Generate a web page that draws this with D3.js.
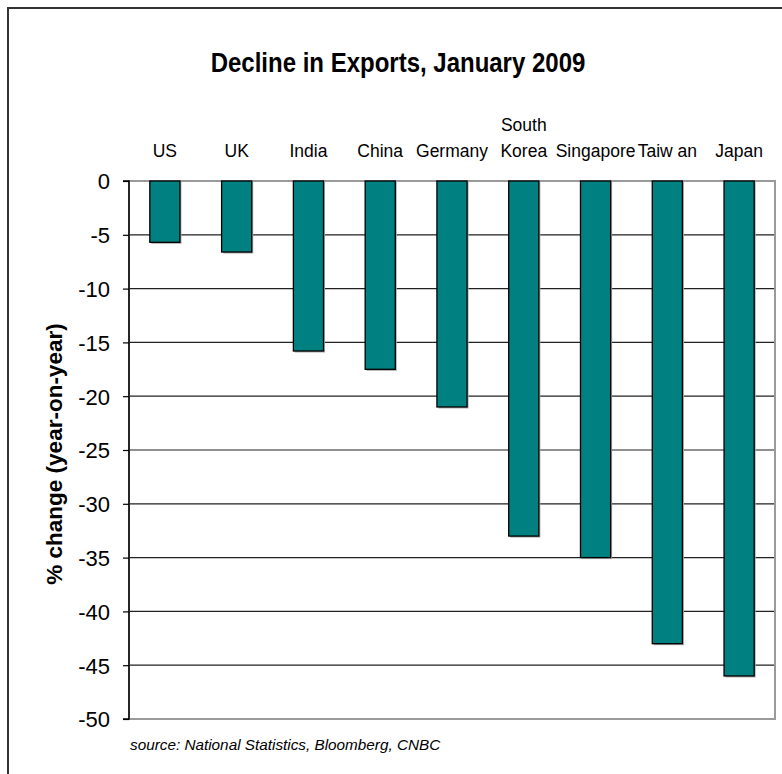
<!DOCTYPE html>
<html><head><meta charset="utf-8">
<script src="https://cdn.jsdelivr.net/npm/d3@7"></script>
<style>body{margin:0;background:#fff}svg{display:block;font-family:"Liberation Sans",Arial,sans-serif}</style>
</head><body><svg id="c" width="782" height="774"></svg>
<script>
const categories = ["US","UK","India","China","Germany","South Korea","Singapore","Taiw an","Japan"];
const values = [-5.7,-6.6,-15.8,-17.5,-21.0,-33.0,-35.0,-43.0,-46.0];
const yTicks = [0,-5,-10,-15,-20,-25,-30,-35,-40,-45,-50];
const title = "Decline in Exports, January 2009";
const yTitle = "% change (year-on-year)";
const source = "source: National Statistics, Bloomberg, CNBC";

const svg = d3.select("#c");
const L=129, R=775, T=181, B=719;
// outer frame
svg.append("rect").attr("x",8).attr("y",8).attr("width",790).attr("height",790)
  .attr("fill","#fff").attr("stroke","#333").attr("stroke-width",2);

const x = d3.scaleBand().domain(categories).range([L,R]).paddingInner(0.58).paddingOuter(0.29);
const y = d3.scaleLinear().domain([0,-50]).range([T,B]);

// gridlines
svg.append("g").selectAll("line").data(yTicks.filter(d=>d!==0&&d!==-50)).join("line")
  .attr("x1",L).attr("x2",R).attr("y1",d=>y(d)).attr("y2",d=>y(d))
  .attr("stroke","#222").attr("stroke-width",1.2);

// plot border (gray)
svg.append("rect").attr("x",L).attr("y",T).attr("width",R-L).attr("height",B-T)
  .attr("fill","none").attr("stroke","#9a9a9a").attr("stroke-width",2);

// bars shadows and bars
const bw = x.bandwidth();
svg.append("g").selectAll("rect").data(values).join("rect")
  .attr("x",(d,i)=>x(categories[i])+1.5).attr("y",y(0))
  .attr("width",bw).attr("height",d=>y(d)-y(0)+1.5)
  .attr("fill","#aaa");
svg.append("g").selectAll("rect").data(values).join("rect")
  .attr("x",(d,i)=>x(categories[i])).attr("y",y(0))
  .attr("width",bw).attr("height",d=>y(d)-y(0))
  .attr("fill","#008080").attr("stroke","#000").attr("stroke-width",1.3);

// y axis
const yAxis = d3.axisLeft(y).tickValues(yTicks).tickSize(6).tickPadding(13).tickFormat(d=>String(d));
const ga = svg.append("g").attr("transform",`translate(${L},0)`).call(yAxis);
ga.select(".domain").attr("stroke","#000").attr("stroke-width",1.5).attr("d",`M-6,${T}H0V${B}H-6`);
ga.selectAll(".tick line").attr("stroke","#000").attr("stroke-width",1.2);
ga.selectAll(".tick text").attr("font-size",22).attr("fill","#000")
  .attr("font-family","Liberation Sans, Arial, sans-serif").attr("dy","0.36em");

// category labels (top)
const cg = svg.append("g");
categories.forEach((c,i)=>{
  const cx = x(c)+bw/2;
  const parts = c==="South Korea" ? ["South","Korea"] : [c];
  parts.forEach((p,j)=>{
    cg.append("text").attr("x",cx).attr("y",157-(parts.length-1-j)*26)
      .attr("text-anchor","middle").attr("font-size",17.5).attr("fill","#000").text(p);
  });
});

// title (slightly stretched vertically as in the reference)
svg.append("text").attr("transform","translate(398,72) scale(1,1.18)").attr("text-anchor","middle")
  .attr("font-size",24).attr("font-weight","bold").text(title);

// y title
svg.append("text").attr("transform",`translate(62,454) rotate(-90)`)
  .attr("text-anchor","middle").attr("font-size",22.5).attr("font-weight","bold").text(yTitle);

// source
svg.append("text").attr("x",130).attr("y",750).attr("font-size",15.3)
  .attr("font-style","italic").text(source);
</script></body></html>
